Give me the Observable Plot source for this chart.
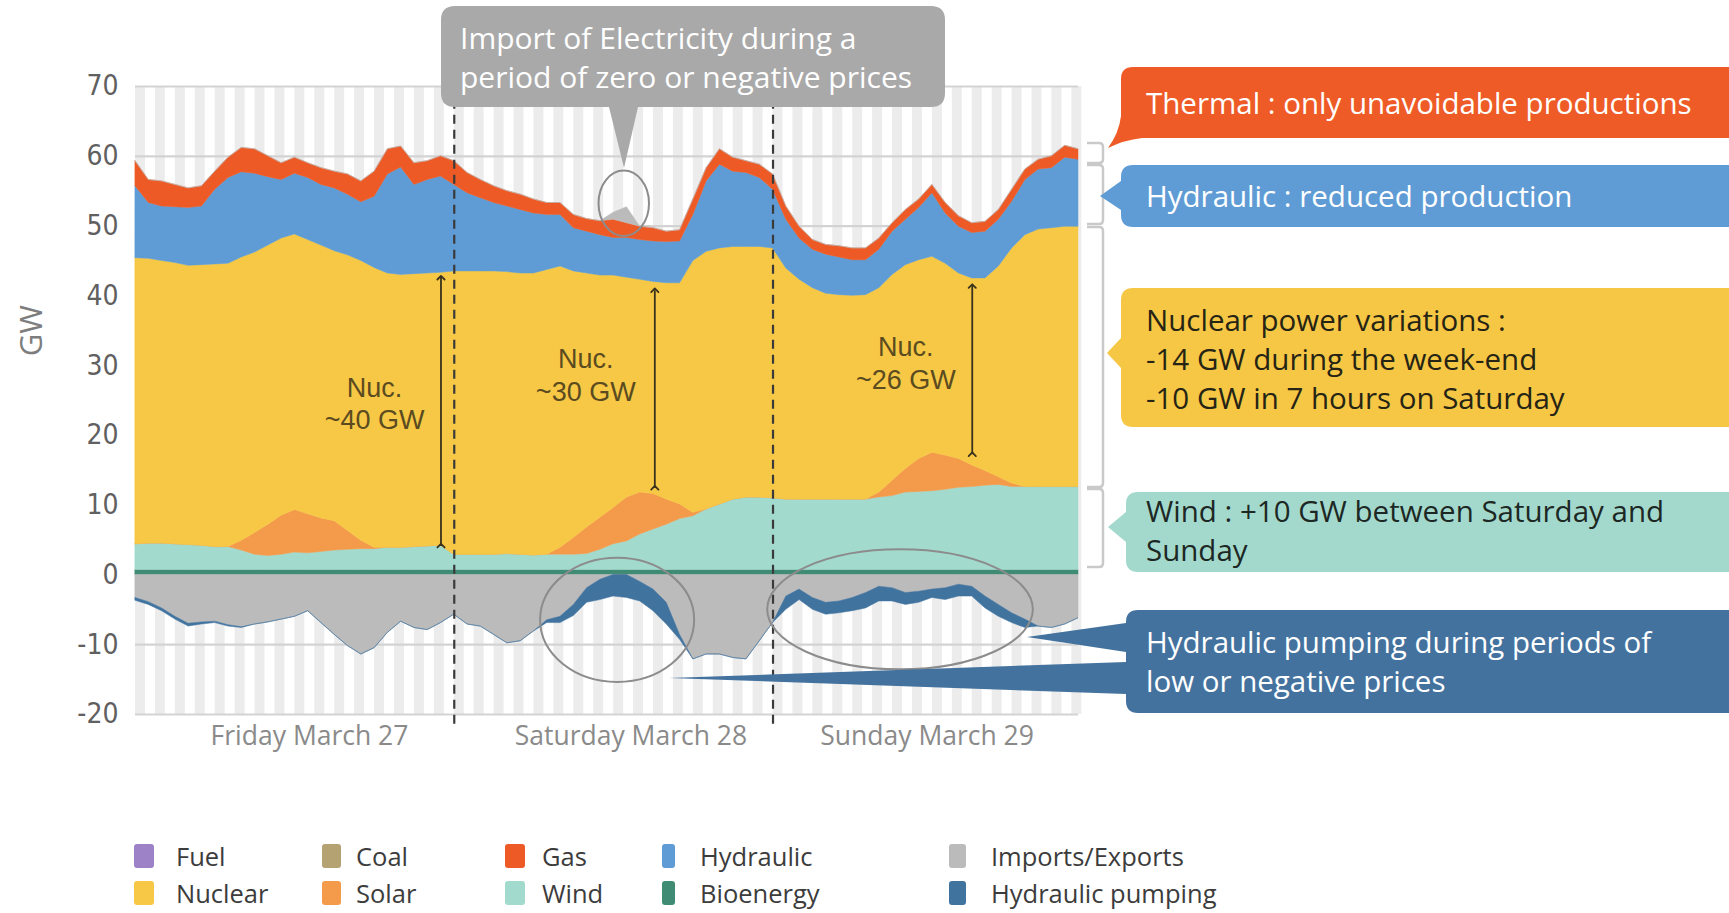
<!DOCTYPE html>
<html>
<head>
<meta charset="utf-8">
<script src="https://cdn.jsdelivr.net/npm/d3@7"></script>
<script src="https://cdn.jsdelivr.net/npm/@observablehq/plot@0.6"></script>
<style>
  html, body { margin: 0; padding: 0; background: #fff; overflow: hidden; }
  #wrap { position: relative; width: 1729px; height: 913px; overflow: hidden; background: #fff; }
  #legend { position: relative; width: 1729px; height: 123px; font-family: "Open Sans", Lato, sans-serif; }
  .sw { position: absolute; height: 24px; border-radius: 3px; transform: translateY(-50%); }
  .lt { position: absolute; font-size: 25.5px; line-height: 1.1; color: #3c3c3c; transform: translateY(-50%); white-space: nowrap; }
</style>
</head>
<body>
<div id="wrap"></div>
<script>
// ---------- DATA (hourly, Fri 27 – Sun 29 March; Sunday has 23 h because of DST) ----------
const hours = Array.from({length: 72}, (_, i) => i);

const bioenergy = [
  0.7,0.7,0.7,0.7,0.7,0.7,0.7,0.7,0.7,0.7,0.7,0.7,0.7,0.7,0.7,0.7,0.7,0.7,0.7,0.7,0.7,0.7,0.7,0.7,
  0.7,0.7,0.7,0.7,0.7,0.7,0.7,0.7,0.7,0.7,0.7,0.7,0.7,0.7,0.7,0.7,0.7,0.7,0.7,0.7,0.7,0.7,0.7,0.7,
  0.7,0.7,0.7,0.7,0.7,0.7,0.7,0.7,0.7,0.7,0.7,0.7,0.7,0.7,0.7,0.7,0.7,0.7,0.7,0.7,0.7,0.7,0.7,0.7];
const wind = [
  3.7,3.8,3.8,3.7,3.6,3.5,3.3,3.3,2.8,2.2,2.0,2.2,2.5,2.4,2.6,2.8,2.9,3.0,3.0,3.2,3.2,3.3,3.4,3.5,
  2.2,2.2,2.2,2.2,2.3,2.2,2.1,2.2,2.2,2.2,2.3,2.9,3.7,4.1,5.1,5.8,6.5,7.3,7.7,8.7,9.4,10.1,10.4,10.4,
  10.3,10.1,10.1,10.1,10.1,10.1,10.1,10.1,10.4,10.6,11.1,11.2,11.3,11.5,11.8,11.9,12.1,12.2,11.9,11.9,11.9,11.9,11.9,11.9];
const solar = [
  0,0,0,0,0,0,0,0,1.4,3.1,4.5,5.6,6.1,5.6,4.8,4.2,2.7,1.2,0.2,0,0,0,0,0,
  0,0,0,0,0,0,0,0,1.0,2.4,3.8,4.6,5.2,6.3,6.0,5.1,3.6,2.1,0.5,0,0,0,0,0,
  0,0,0,0,0,0,0,0,0.7,2.2,3.4,4.7,5.5,4.9,4.1,3.1,2.1,1.1,0.5,0,0,0,0,0];
const nuclear = [
  41.0,40.8,40.5,40.3,40.0,40.2,40.5,40.6,40.6,40.2,40.0,39.7,39.5,39.3,39.1,38.7,39.5,40.1,40.1,39.3,39.1,39.1,39.1,39.1,
  40.6,40.6,40.6,40.6,40.4,40.3,40.4,40.8,40.3,38.2,36.4,34.7,33.3,31.5,30.5,30.4,31.0,31.7,36.1,36.9,36.7,36.2,35.9,35.9,
  35.8,33.1,31.5,30.3,29.5,29.3,29.2,29.3,29.3,29.5,29.2,28.5,28.1,27.5,26.6,26.8,27.6,30.2,33.7,36.1,36.9,37.1,37.3,37.3];
const hydraulic = [
  10.3,8.0,7.8,8.0,8.3,8.4,10.7,12.3,12.2,11.3,9.8,8.4,8.7,8.9,8.7,9.0,8.7,8.4,10.2,14.2,15.4,12.8,13.4,13.8,
  12.4,11.2,10.5,9.8,9.4,9.1,8.6,7.9,7.4,6.2,6.0,5.8,5.4,5.7,5.7,5.8,5.9,6.0,6.6,10.1,12.0,10.8,10.6,9.9,
  8.4,7.0,5.9,5.5,5.6,5.4,5.1,5.0,5.5,6.2,6.5,7.5,9.1,7.2,6.7,6.5,6.7,6.7,6.7,7.9,8.6,8.6,9.9,9.6];
const gas = [
  3.6,3.3,3.6,3.2,2.8,2.9,2.6,2.9,3.5,3.5,3.0,2.4,2.3,2.1,2.4,2.4,2.9,3.0,3.6,3.6,3.0,3.1,2.7,2.9,
  3.4,2.9,2.6,2.4,2.2,2.2,2.0,1.7,1.7,1.9,1.8,2.0,2.6,2.1,1.9,1.9,1.5,1.6,2.2,1.9,2.2,2.0,1.7,1.9,
  2.2,1.9,1.7,1.4,1.4,1.6,1.7,1.7,1.6,1.2,1.4,1.2,1.2,1.5,1.5,1.4,1.4,1.4,1.7,1.5,1.4,1.7,1.7,1.5];
const importsExports = [
  -3.3,-3.9,-4.8,-6.0,-7.0,-6.8,-6.7,-7.2,-7.5,-7.1,-6.8,-6.4,-6.0,-5.2,-6.9,-8.6,-10.2,-11.4,-10.5,-8.3,-6.7,-7.6,-7.9,-6.9,
  -5.7,-7.1,-7.4,-8.6,-9.8,-9.5,-8.1,-6.5,-6.0,-4.3,-1.9,-0.7,1.0,2.3,-1.0,-2.1,-4.0,-8.6,-12.1,-11.4,-11.4,-11.9,-12.1,-9.5,
  -6.9,-3.1,-2.1,-3.3,-4.0,-3.8,-3.3,-2.6,-1.7,-1.9,-2.6,-2.4,-2.1,-1.9,-1.4,-1.7,-3.1,-4.3,-5.5,-6.4,-7.4,-7.6,-7.1,-6.2];
const hydraulicPumping = [
  -0.4,-0.4,-0.4,-0.4,-0.4,-0.3,-0.2,-0.2,-0.1,0,0,0,0,0,0,0,0,0,0,0,0,0,0,0,
  0,0,0,0,0,0,0,-0.4,-0.9,-1.6,-2.1,-2.9,-3.1,-3.3,-2.8,-3.1,-3.1,-0.7,0,0,0,0,0,0,
  0,-1.9,-1.5,-1.7,-1.7,-1.7,-1.9,-2.2,-2.1,-1.9,-1.7,-1.6,-1.2,-1.7,-1.7,-1.4,-1.7,-1.7,-1.4,-1.2,0,0,0,0];

const legendNames  = ["Fuel","Coal","Gas","Hydraulic","Imports/Exports","Nuclear","Solar","Wind","Bioenergy","Hydraulic pumping"];
const legendColors = ["#9d82c8","#b4a273","#ee5a25","#5f9cd5","#bbbbbb","#f6c845","#f49a4b","#a2dacd","#3f8b74","#41739f"];

const yTicks = [-20,-10,0,10,20,30,40,50,60,70];
const dayBreaks = [24, 48];
const dayNames = ["Friday March 27","Saturday March 28","Sunday March 29"];
const dayLabelPos = [13.1, 37.3, 59.6];

const nucLabels = [
  {hour: 18.0, gw: 24.7, text: "Nuc.\n~40 GW"},
  {hour: 33.9, gw: 28.8, text: "Nuc.\n~30 GW"},
  {hour: 58.0, gw: 30.5, text: "Nuc.\n~26 GW"}];
const nucArrows = [
  {hour: 23.0, from: 4.2, to: 42.6},
  {hour: 39.1, from: 12.5, to: 40.8},
  {hour: 63.0, from: 17.3, to: 41.4}];
const ellipses = [
  {hour: 36.8, gw: 53.2, rh: 1.9, rgw: 4.7},
  {hour: 36.3, gw: -6.5, rh: 5.8, rgw: 8.9},
  {hour: 57.6, gw: -5.0, rh: 10.0, rgw: 8.6}];

// ---------- build stacked table ----------
const stackOrder = [
  ["Bioenergy", bioenergy], ["Wind", wind], ["Solar", solar], ["Nuclear", nuclear],
  ["Hydraulic", hydraulic], ["Gas", gas], ["Imports/Exports", importsExports], ["Hydraulic pumping", hydraulicPumping]];
const rows = [];
hours.forEach((h, i) => {
  let pos = 0, neg = 0;
  for (const [name, vals] of stackOrder) {
    const v = vals[i];
    if (name === "Imports/Exports") {
      const p = Math.max(v, 0), n = Math.min(v, 0);
      rows.push({hour: h, key: "imp+", series: name, y1: pos, y2: pos + p}); pos += p;
      rows.push({hour: h, key: "imp-", series: name, y1: neg, y2: neg + n}); neg += n;
    } else if (name === "Hydraulic pumping") {
      rows.push({hour: h, key: name, series: name, y1: neg, y2: neg + v}); neg += v;
    } else {
      rows.push({hour: h, key: name, series: name, y1: pos, y2: pos + v}); pos += v;
    }
  }
});

const stripes = d3.range(0, 71, 1.5);
const narrow = '"Liberation Sans Narrow", "Arial Narrow", "DejaVu Sans Condensed", sans-serif';
const mainFont = '"Open Sans", Lato, sans-serif';

const chart = Plot.plot({
  width: 1729, height: 790,
  marginLeft: 135, marginRight: 651, marginTop: 86, marginBottom: 76,
  x: {domain: [0, 71]},
  y: {domain: [-20, 70]},
  color: {domain: legendNames, range: legendColors},
  style: {background: "#fff", fontFamily: mainFont},
  marks: [
    Plot.rect(stripes, {x1: d => d, x2: d => d + 0.75, y1: -20, y2: 70, fill: "#ececec"}),
    Plot.ruleY(yTicks, {stroke: "#d3d3d3", strokeWidth: 2.2}),
    Plot.areaY(rows, {x: "hour", y1: "y1", y2: "y2", z: "key", fill: "series", stroke: "series", strokeWidth: 0.5, curve: "linear"}),
    Plot.ruleX(dayBreaks, {y1: -21.4, y2: 70, stroke: "#3a3a3a", strokeWidth: 2.2, strokeDasharray: "9,6"}),
    Plot.link(nucArrows, {x1: "hour", x2: "hour", y1: "from", y2: "to", stroke: "#3a321c", strokeWidth: 1.8, markerStart: "arrow", markerEnd: "arrow"}),
    Plot.text(nucLabels, {x: "hour", y: "gw", text: "text", fontSize: 27, lineHeight: 1.2, fill: "#5b4b20", fontFamily: '"Liberation Sans", Arial, sans-serif'}),
    Plot.axisY({ticks: yTicks, tickSize: 0, tickPadding: 17, tickFormat: d => String(d), fontSize: 28, fill: "#606060", fontFamily: narrow, label: null}),
    Plot.text([{t: "GW", gw: 35}], {text: "t", y: "gw", frameAnchor: "left", textAnchor: "middle", dx: -103, rotate: -90, fontSize: 31, fill: "#7d7d7d", fontFamily: mainFont}),
    Plot.axisX({ticks: dayLabelPos, tickFormat: d => dayNames[dayLabelPos.indexOf(d)], tickSize: 0, tickPadding: 12, fontSize: 26.5, fill: "#8a8a8a", label: null})
  ]
});

const wrap = document.getElementById("wrap");
wrap.appendChild(chart);

// ---------- annotations ----------
const svg = d3.select(chart);
const sx = chart.scale("x"), sy = chart.scale("y");
const ann = svg.append("g").attr("font-family", mainFont).attr("text-anchor", "start");

ellipses.forEach(e => {
  ann.append("ellipse")
    .attr("cx", sx.apply(e.hour)).attr("cy", sy.apply(e.gw))
    .attr("rx", Math.abs(sx.apply(e.hour + e.rh) - sx.apply(e.hour)))
    .attr("ry", Math.abs(sy.apply(e.gw + e.rgw) - sy.apply(e.gw)))
    .attr("fill", "none").attr("stroke", "#8c8c8c").attr("stroke-width", 2);
});

// top grey callout
ann.append("path")
  .attr("d", "M455,6 H931 Q945,6 945,20 V93 Q945,107 931,107 H638 L624,168 L609,107 H455 Q441,107 441,93 V20 Q441,6 455,6 Z")
  .attr("fill", "#a9a9a9");
const topLines = ["Import of Electricity during a", "period of zero or negative prices"];
topLines.forEach((t, i) => ann.append("text").attr("x", 460).attr("y", 49 + i * 39)
  .attr("text-anchor", "start").attr("fill", "#fff").attr("font-size", 30).text(t));

// brackets
const brackets = [[143, 163], [165, 224], [227, 487], [489, 567]];
brackets.forEach(([a, b]) => ann.append("path")
  .attr("d", `M1087,${a} H1099 Q1103,${a} 1103,${a + 4} V${b - 4} Q1103,${b} 1099,${b} H1087`)
  .attr("fill", "none").attr("stroke", "#c9c9c9").attr("stroke-width", 2.5));

// right callouts
const callouts = [
  {d: "M1133,67 H1740 V138 H1142 Q1124,140 1108,148 Q1119,133 1121,116 V79 Q1121,67 1133,67 Z",
   fill: "#ee5b26", color: "#fff", lines: ["Thermal : only unavoidable productions"], y0: 114},
  {d: "M1133,165 H1740 V227 H1133 Q1121,227 1121,215 V210 L1100,196 L1121,181 V177 Q1121,165 1133,165 Z",
   fill: "#5f9cd5", color: "#fff", lines: ["Hydraulic : reduced production"], y0: 207},
  {d: "M1133,288 H1740 V427 H1133 Q1121,427 1121,415 V368 L1107,353 L1121,338 V300 Q1121,288 1133,288 Z",
   fill: "#f5c745", color: "#262414", lines: ["Nuclear power variations :", "-14 GW during the week-end", "-10 GW in 7 hours on Saturday"], y0: 331},
  {d: "M1138,492 H1740 V572 H1138 Q1126,572 1126,560 V542 L1108,527 L1126,512 V504 Q1126,492 1138,492 Z",
   fill: "#a3d9cd", color: "#1d2824", lines: ["Wind : +10 GW between Saturday and", "Sunday"], y0: 522},
  {d: "M1138,610 H1740 V713 H1138 Q1126,713 1126,701 V694 L669,678 L1126,662 V652 L1027,637 L1126,623 V622 Q1126,610 1138,610 Z",
   fill: "#44729e", color: "#fff", lines: ["Hydraulic pumping during periods of", "low or negative prices"], y0: 653}
];
callouts.forEach(c => {
  ann.append("path").attr("d", c.d).attr("fill", c.fill);
  c.lines.forEach((t, i) => ann.append("text").attr("x", 1146).attr("y", c.y0 + i * 39)
    .attr("text-anchor", "start").attr("fill", c.color).attr("font-size", 29.5).text(t));
});

// ---------- legend ----------
const legend = d3.select(wrap).append("div").attr("id", "legend");
const swX = [134, 322, 505, 662, 949];
const swW = [20, 19, 20, 13, 17];
const txX = [176, 356, 542, 700, 991];
const rowY = [66, 103];
legendNames.forEach((name, i) => {
  const col = i % 5, row = Math.floor(i / 5);
  legend.append("div").attr("class", "sw")
    .style("left", swX[col] + "px").style("top", rowY[row] + "px")
    .style("width", swW[col] + "px").style("background", legendColors[i]);
  legend.append("div").attr("class", "lt")
    .style("left", txX[col] + "px").style("top", rowY[row] + "px").text(name);
});
</script>
</body>
</html>
